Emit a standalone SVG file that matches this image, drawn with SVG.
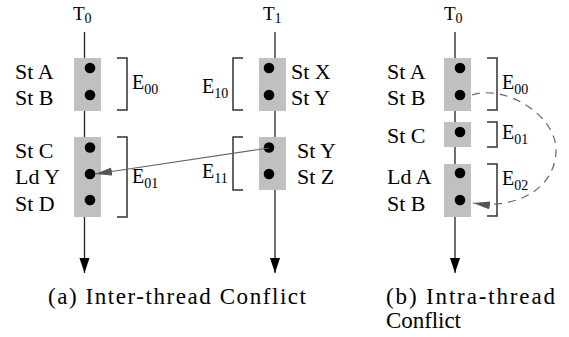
<svg xmlns="http://www.w3.org/2000/svg" width="569" height="337" viewBox="0 0 569 337" font-family="'Liberation Serif', 'Times New Roman', 'DejaVu Serif', serif">
<style>
text{font-family:'Liberation Serif','Times New Roman','DejaVu Serif',serif;fill:#000}
.lbl{font-size:22px}
.e{font-size:20px}
.sub{font-size:14px}
.t{font-size:19px}
.cap{font-size:23px}
.box{fill:#c0c0c0}
.dot{fill:#000}
.br{fill:none;stroke:#333;stroke-width:1.5}
.tl{stroke:#222;stroke-width:1.3;fill:none}
.conn{fill:none;stroke:#666;stroke-width:1.2}
.dash{stroke-dasharray:8 6}
</style>
<defs>
<marker id="down" markerUnits="userSpaceOnUse" markerWidth="16" markerHeight="12" refX="15" refY="5" orient="auto">
<path d="M0,0 L15,5 L0,10 z" fill="#000"/>
</marker>
<marker id="conf" markerUnits="userSpaceOnUse" markerWidth="18" markerHeight="10" refX="17" refY="4" orient="auto">
<path d="M0,0 L17,4 L0,8 z" fill="#555"/>
</marker>
</defs>
<rect width="569" height="337" fill="#fff"/>

<g id="thread-a-T0">
<line class="tl" x1="84.5" y1="32" x2="84.5" y2="273" marker-end="url(#down)"/>
<text class="t" x="73" y="20">T<tspan class="sub" dy="3">0</tspan></text>
</g>
<g id="thread-a-T1">
<line class="tl" x1="275" y1="32" x2="275" y2="273" stroke="#444" marker-end="url(#down)"/>
<text class="t" x="263" y="20">T<tspan class="sub" dy="3">1</tspan></text>
</g>
<g id="thread-b-T0">
<line class="tl" x1="455" y1="32" x2="455" y2="273" stroke="#444" marker-end="url(#down)"/>
<text class="t" x="444" y="20">T<tspan class="sub" dy="3">0</tspan></text>
</g>

<g id="a-E00">
<rect class="box" x="74" y="58" width="27" height="53"/>
<circle class="dot" cx="90" cy="68" r="5.3"/>
<circle class="dot" cx="90" cy="95" r="5.3"/>
<text class="lbl" x="15" y="79">St A</text>
<text class="lbl" x="15" y="105">St B</text>
<path class="br" d="M117,58 H127 V110 H117"/>
<text class="e" x="132" y="89">E<tspan class="sub" dy="5">00</tspan></text>
</g>
<g id="a-E01">
<rect class="box" x="74" y="137" width="27" height="80"/>
<circle class="dot" cx="90" cy="147.5" r="5.3"/>
<circle class="dot" cx="90" cy="174" r="5.3"/>
<circle class="dot" cx="90" cy="200" r="5.3"/>
<text class="lbl" x="15" y="158">St C</text>
<text class="lbl" x="15" y="184">Ld Y</text>
<text class="lbl" x="15" y="211">St D</text>
<path class="br" d="M117,137 H127 V217 H117"/>
<text class="e" x="132" y="183">E<tspan class="sub" dy="5">01</tspan></text>
</g>
<g id="a-E10">
<rect class="box" x="259" y="58" width="27" height="53"/>
<circle class="dot" cx="269" cy="68" r="5.3"/>
<circle class="dot" cx="269" cy="95" r="5.3"/>
<text class="lbl" x="291" y="79">St X</text>
<text class="lbl" x="291" y="105">St Y</text>
<path class="br" d="M243,58 H233 V110 H243"/>
<text class="e" x="202" y="93">E<tspan class="sub" dy="5">10</tspan></text>
</g>
<g id="a-E11">
<rect class="box" x="259" y="137" width="27" height="53"/>
<circle class="dot" cx="269" cy="147.5" r="5.3"/>
<circle class="dot" cx="269" cy="174" r="5.3"/>
<text class="lbl" x="297" y="158">St Y</text>
<text class="lbl" x="297" y="184">St Z</text>
<path class="br" d="M243,137 H233 V190 H243"/>
<text class="e" x="202" y="178">E<tspan class="sub" dy="5">11</tspan></text>
</g>

<g id="b-E00">
<rect class="box" x="444" y="58" width="27" height="53"/>
<circle class="dot" cx="460" cy="68" r="5.3"/>
<circle class="dot" cx="460" cy="95" r="5.3"/>
<text class="lbl" x="387" y="79">St A</text>
<text class="lbl" x="387" y="105">St B</text>
<path class="br" d="M487,58 H497 V110 H487"/>
<text class="e" x="502" y="89">E<tspan class="sub" dy="5">00</tspan></text>
</g>
<g id="b-E01">
<rect class="box" x="444" y="122" width="27" height="25"/>
<circle class="dot" cx="460" cy="132" r="5.3"/>
<text class="lbl" x="387" y="143">St C</text>
<path class="br" d="M487,122 H497 V147 H487"/>
<text class="e" x="502" y="139">E<tspan class="sub" dy="5">01</tspan></text>
</g>
<g id="b-E02">
<rect class="box" x="444" y="164" width="27" height="53"/>
<circle class="dot" cx="460" cy="173" r="5.3"/>
<circle class="dot" cx="460" cy="200" r="5.3"/>
<text class="lbl" x="387" y="184">Ld A</text>
<text class="lbl" x="387" y="211">St B</text>
<path class="br" d="M487,164 H497 V216 H487"/>
<text class="e" x="502" y="185">E<tspan class="sub" dy="5">02</tspan></text>
</g>

<g id="connectors">
<line class="conn" x1="269" y1="148" x2="95" y2="174" marker-end="url(#conf)"/>
<path class="conn dash" d="M472,95 C505,84 556,115 556,150 C556,185 522,210 473,203" marker-end="url(#conf)"/>
</g>

<g id="captions">
<text class="cap" x="48" y="304" textLength="258">(a) Inter-thread Conflict</text>
<text class="cap" x="386" y="304" textLength="169">(b) Intra-thread</text>
<text class="cap" x="386" y="328" textLength="75">Conflict</text>
</g>
</svg>
